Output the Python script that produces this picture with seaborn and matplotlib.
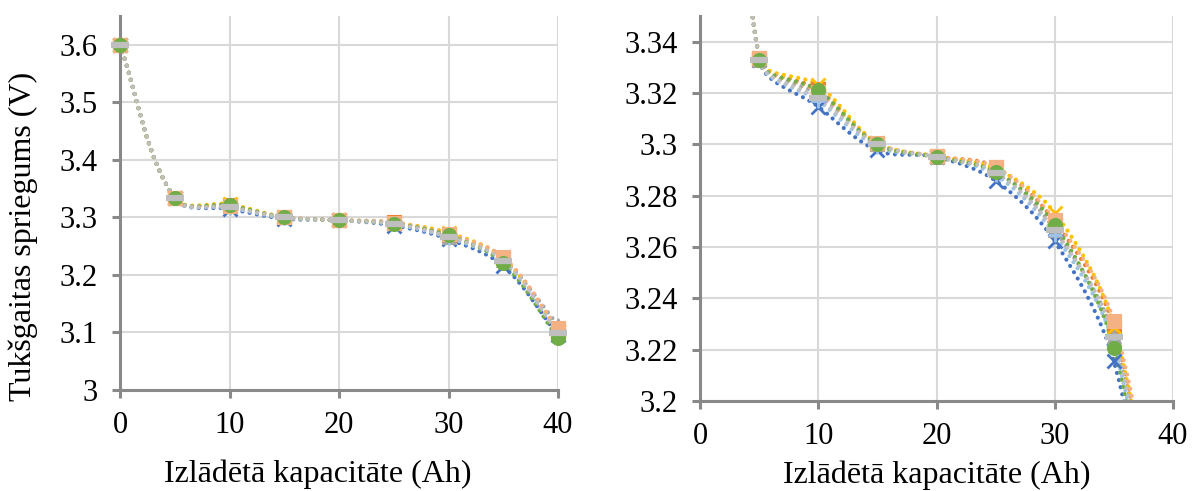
import matplotlib
matplotlib.use("Agg")
import matplotlib.pyplot as plt
import seaborn as sns
import numpy as np
import pandas as pd
from matplotlib.path import Path
from matplotlib.patches import PathPatch
from matplotlib.ticker import FuncFormatter

sns.set_theme(style="white")
plt.rcParams['font.family'] = ['Liberation Serif', 'DejaVu Serif']

capacity = [0, 5, 10, 15, 20, 25, 30, 35, 40]

s1 = [3.600, 3.3330, 3.3147, 3.2976, 3.2951, 3.2858, 3.2622, 3.2154, 3.095]
s2 = [3.600, 3.3335, 3.3214, 3.3002, 3.2953, 3.2912, 3.2700, 3.2286, 3.105]
s3 = [3.600, 3.3330, 3.3195, 3.3000, 3.2950, 3.2900, 3.2667, 3.2252, 3.113]
s4 = [3.600, 3.3335, 3.3231, 3.3005, 3.2953, 3.2905, 3.2733, 3.2290, 3.103]
s5 = [3.600, 3.3330, 3.3170, 3.2990, 3.2950, 3.2880, 3.2648, 3.2220, 3.097]
s6 = [3.600, 3.3335, 3.3205, 3.3005, 3.2953, 3.2910, 3.2705, 3.2310, 3.107]
s7 = [3.600, 3.3330, 3.3210, 3.3000, 3.2950, 3.2892, 3.2687, 3.2207, 3.090]
s8 = [3.600, 3.3330, 3.3180, 3.3000, 3.2950, 3.2890, 3.2665, 3.2250, 3.099]

series_values = [s1, s2, s3, s4, s5, s6, s7, s8]
series_colors = ['#4472C4', '#ED7D31', '#A5A5A5', '#FFC000',
                 '#9DC3E6', '#F4B183', '#70AD47', '#BFBFBF']
series_markers = ['x', 's', '^', 'x', '+', 's', 'o', '_']

left_yticks = [3.0, 3.1, 3.2, 3.3, 3.4, 3.5, 3.6]
right_yticks = [3.20, 3.22, 3.24, 3.26, 3.28, 3.30, 3.32, 3.34]
xticks = [0, 10, 20, 30, 40]

xlabel = "Izlādētā kapacitāte (Ah)"
ylabel = "Tukšgaitas spriegums (V)"

fig = plt.figure(figsize=(11.92, 4.91), dpi=100)
W, H = 1192, 491
axL = fig.add_axes([120 / W, 1 - 390 / H, (558 - 120) / W, (390 - 16) / H])
axR = fig.add_axes([700 / W, 1 - 401 / H, (1173 - 700) / W, (401 - 16) / H])

axL.set_xlim(0, 40)
axL.set_ylim(3.0, 3.65)
axR.set_xlim(0, 40)
axR.set_ylim(3.2, 3.35)


def fmt(v, pos):
    return f"{v:.2f}".rstrip('0').rstrip('.')


def smooth_path(ax, xs, ys, k=0.33):
    # Smoothed line (as Excel draws it): cubic Bezier segments through the
    # data points, control points computed in screen space.
    pts = ax.transData.transform(np.column_stack([xs, ys]))
    n = len(pts)
    tang = []
    for i in range(n):
        a = pts[max(i - 1, 0)]
        b = pts[min(i + 1, n - 1)]
        d = b - a
        tang.append(d / np.hypot(*d))
    verts = [pts[0]]
    codes = [Path.MOVETO]
    for i in range(n - 1):
        seg = np.hypot(*(pts[i + 1] - pts[i]))
        c1 = pts[i] + tang[i] * seg * k
        c2 = pts[i + 1] - tang[i + 1] * seg * k
        verts += [c1, c2, pts[i + 1]]
        codes += [Path.CURVE4] * 3
    verts = ax.transData.inverted().transform(np.array(verts))
    return Path(verts, codes)


for ax, clip in ((axL, False), (axR, True)):
    for vals, col, mk in zip(series_values, series_colors, series_markers):
        patch = PathPatch(smooth_path(ax, capacity, vals), fill=False, edgecolor=col,
                          linewidth=3.0, linestyle=(0, (0.01, 1.75)),
                          capstyle='round', zorder=2)
        ax.add_patch(patch)
        df = pd.DataFrame({'x': capacity, 'y': vals})
        if mk == '_':
            ms, mew = 13, 4.5
        elif mk in ('x', '+'):
            ms, mew = 10, 2
        else:
            ms, mew = 10, 0.8
        sns.lineplot(data=df, x='x', y='y', ax=ax, color=col, marker=mk,
                     markersize=ms, linestyle='none', markeredgewidth=mew,
                     markeredgecolor=col, clip_on=clip, sort=False, zorder=3)
    ax.set_xticks(xticks)
    ax.grid(True, color='#D9D9D9', linewidth=1.5)
    ax.set_axisbelow(True)
    for side in ('top', 'right'):
        ax.spines[side].set_visible(False)
    for side in ('left', 'bottom'):
        ax.spines[side].set_color('#898989')
        ax.spines[side].set_linewidth(2.2)
    ax.tick_params(axis='both', which='major', length=6, width=2.2, color='#898989',
                   labelsize=22, labelcolor='black', direction='out',
                   bottom=True, left=True)
    ax.tick_params(axis='x', pad=9)
    ax.tick_params(axis='y', pad=10)
    ax.yaxis.set_major_formatter(FuncFormatter(fmt))
    ax.set_xlabel(xlabel, fontsize=23, color='black')
    ax.xaxis.label.set_va('center')
    ax.set_ylabel('')

axL.set_xlim(0, 40)
axL.set_ylim(3.0, 3.65)
axL.set_yticks(left_yticks)
axL.set_ylabel(ylabel, fontsize=23, color='black')
axL.yaxis.label.set_va('center')
axL.yaxis.set_label_coords((23 - 120) / 438, (390 - 236) / 374)
axL.xaxis.set_label_coords((318 - 120) / 438, (390 - 474) / 374)

axR.set_xlim(0, 40)
axR.set_ylim(3.2, 3.35)
axR.set_yticks(right_yticks)
axR.xaxis.set_label_coords(0.5, (401 - 475) / 385)

fig.savefig("out.png", dpi=100)
